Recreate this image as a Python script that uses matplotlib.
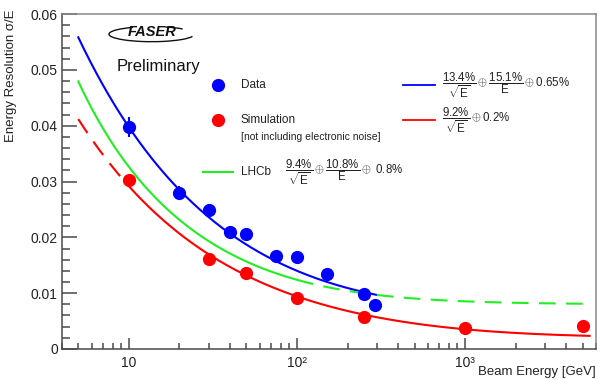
import numpy as np
import matplotlib
matplotlib.use("Agg")
import matplotlib.pyplot as plt
from matplotlib.lines import Line2D
from matplotlib.patches import Arc

plt.rcParams['font.family'] = ['Liberation Sans', 'DejaVu Sans']
plt.rcParams['mathtext.fontset'] = 'custom'
plt.rcParams['mathtext.rm'] = 'Liberation Sans'
plt.rcParams['mathtext.it'] = 'Liberation Sans:italic'

# =========================
# DATA
# =========================
data_E = [10, 20, 30, 40, 50, 75, 100, 150, 250, 290]
data_res = [0.0398, 0.0280, 0.0249, 0.0210, 0.0206, 0.0167, 0.0164, 0.0134, 0.0098, 0.0079]
data_err = [0.0018, 0.0012, 0.0005, 0.0005, 0.0005, 0.0005, 0.0005, 0.0005, 0.0005, 0.0005]

sim_E = [10, 30, 50, 100, 250, 1000, 5000]
sim_res = [0.0303, 0.0161, 0.0137, 0.0091, 0.0057, 0.0038, 0.0041]

# fit curves: stochastic, noise, constant term (quadrature sum)
blue_par = [0.124, 0.0, 0.0065]     # drawn curve
red_par = [0.092, 0.0, 0.002]
green_par = [0.094, 0.108, 0.008]   # LHCb

blue_range = [5, 300]
red_dash_range = [5, 10]
red_solid_range = [10, 5500]
green_solid_range = [5, 100]
green_dash_range = [100, 5000]

xticks = [10, 100, 1000]
xticklabels = ["10", "10\u00b2", "10\u00b3"]
yticks = [0, 0.01, 0.02, 0.03, 0.04, 0.05, 0.06]
yticklabels = ["0", "0.01", "0.02", "0.03", "0.04", "0.05", "0.06"]


def resolution(E, p):
    a, b, c = p
    return np.sqrt((a / np.sqrt(E)) ** 2 + (b / E) ** 2 + c ** 2)


def grid(r):
    return np.logspace(np.log10(r[0]), np.log10(r[1]), 200)


BLUE = "#0000ff"
RED = "#ff0000"
GREEN = "#22ee22"
FRAME = "#4a4a4a"
TXT = "#222222"

fig = plt.figure(figsize=(6, 3.8), dpi=100)
ax = fig.add_axes([0.1033, 0.0816, 0.89, 0.8814])

# curves
E = grid(blue_range)
ax.plot(E, resolution(E, blue_par), color=BLUE, lw=1.5)
E = grid(red_dash_range)
ax.plot(E, resolution(E, red_par), color=RED, lw=1.5, dashes=(8, 5))
E = grid(red_solid_range)
ax.plot(E, resolution(E, red_par), color=RED, lw=1.5)
E = grid(green_solid_range)
ax.plot(E, resolution(E, green_par), color=GREEN, lw=1.5)
E = grid(green_dash_range)
ax.plot(E, resolution(E, green_par), color=GREEN, lw=1.5, dashes=(8, 5))

# points
ax.errorbar(data_E, data_res, yerr=data_err, fmt="o", color=BLUE, ms=8.5,
            elinewidth=1.5, capsize=0, zorder=5)
ax.plot(sim_E, sim_res, "o", color=RED, ms=8.5, zorder=5)

# axes
ax.set_xscale("log")
ax.set_xlim(4, 6000)
ax.set_ylim(0, 0.06)
ax.set_xticks(xticks)
ax.set_xticklabels(xticklabels)
ax.set_yticks(yticks)
ax.set_yticklabels(yticklabels)
ax.set_yticks(np.arange(0, 0.0601, 0.002), minor=True)
ax.tick_params(axis="y", which="major", direction="in", length=10.5, width=1.1,
               color=FRAME, labelsize=10, labelcolor=TXT, pad=3, right=False)
ax.tick_params(axis="y", which="minor", direction="in", length=5.5, width=1.1,
               color=FRAME, right=False)
ax.tick_params(axis="x", which="major", direction="in", length=8, width=1.1,
               color=FRAME, labelsize=10, labelcolor=TXT, pad=5, top=False)
ax.tick_params(axis="x", which="minor", direction="in", length=4, width=1.1,
               color=FRAME, top=False)
ax.xaxis.set_minor_formatter(matplotlib.ticker.NullFormatter())
for s in ax.spines.values():
    s.set_color(FRAME)
    s.set_linewidth(1.1)
ax.spines["top"].set_color("#888888")
ax.spines["right"].set_color("#888888")

fig.text(0.018, 0.975, "Energy Resolution \u03c3/E", rotation=90, ha="center",
         va="top", fontsize=9.5, color=TXT)
fig.text(0.9933, 0.021, "Beam Energy [GeV]", ha="right", va="center",
         fontsize=9.5, color=TXT)

# FASER logo + Preliminary
ax.text(0.169, 0.945, "FASER", transform=ax.transAxes, ha="center", va="center",
        fontsize=10.5, fontweight="bold", fontstyle="italic", color="#111111")
ax.add_patch(Arc((0.168, 0.94), 0.16, 0.045, theta1=150, theta2=355,
                 transform=ax.transAxes, color="#111111", lw=1.0))
ax.add_patch(Arc((0.168, 0.94), 0.16, 0.045, theta1=15, theta2=40,
                 transform=ax.transAxes, color="#111111", lw=1.0))
ax.text(0.18, 0.842, "Preliminary", transform=ax.transAxes, ha="center",
        va="center", fontsize=12, color="#111111")

# legend (drawn by hand, ROOT style)
tr = ax.transAxes
ax.add_line(Line2D([0.292], [0.788], marker="o", ms=8.5, color=BLUE, transform=tr))
ax.add_line(Line2D([0.292], [0.684], marker="o", ms=8.5, color=RED, transform=tr))
ax.text(0.335, 0.788, "Data", transform=tr, va="center", fontsize=8.5, color=TXT)
ax.text(0.335, 0.684, "Simulation", transform=tr, va="center", fontsize=8.5, color=TXT)
ax.text(0.335, 0.633, "[not including electronic noise]", transform=tr, va="center",
        fontsize=7.5, color=TXT)
ax.add_line(Line2D([0.264, 0.320], [0.528, 0.528], color=GREEN, lw=1.5, transform=tr))
ax.text(0.335, 0.528, "LHCb", transform=tr, va="center", fontsize=8.5, color=TXT)
ax.text(0.418, 0.528, r"$\dfrac{9.4\%}{\sqrt{\mathrm{E}}}\oplus\dfrac{10.8\%}{\mathrm{E}}\oplus$ 0.8%",
        transform=tr, va="center", fontsize=8.3, color=TXT)
ax.add_line(Line2D([0.639, 0.698], [0.788, 0.788], color=BLUE, lw=1.3, transform=tr))
ax.text(0.712, 0.788, r"$\dfrac{13.4\%}{\sqrt{\mathrm{E}}}\oplus\dfrac{15.1\%}{\mathrm{E}}\oplus$0.65%",
        transform=tr, va="center", fontsize=8.3, color=TXT)
ax.add_line(Line2D([0.639, 0.698], [0.684, 0.684], color=RED, lw=1.3, transform=tr))
ax.text(0.712, 0.684, r"$\dfrac{9.2\%}{\sqrt{\mathrm{E}}}\oplus$0.2%",
        transform=tr, va="center", fontsize=8.3, color=TXT)

fig.savefig("out.png", dpi=100)
